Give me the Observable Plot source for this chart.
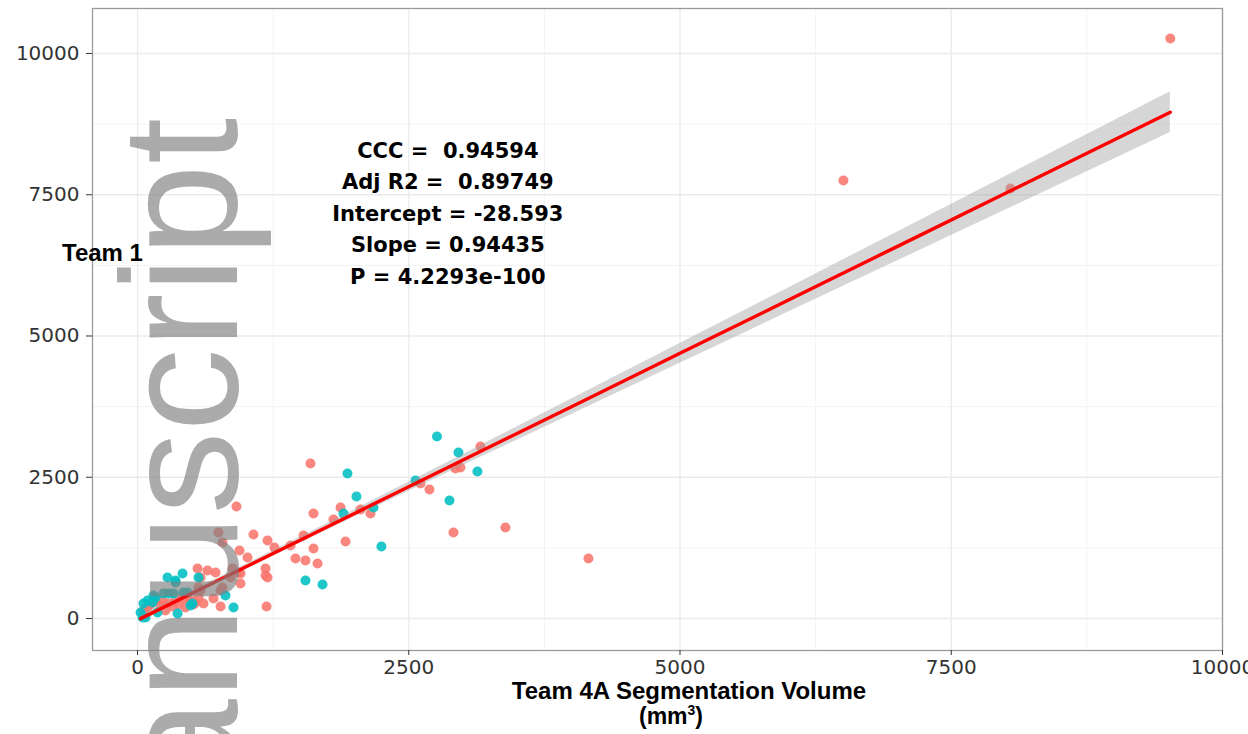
<!DOCTYPE html>
<html>
<head>
<meta charset="utf-8">
<script src="https://cdn.jsdelivr.net/npm/d3@7"></script>
<script src="https://cdn.jsdelivr.net/npm/@observablehq/plot@0.6"></script>
<style>
  body { margin: 0; background: #fff; }
  #wrap { position: relative; width: 1248px; height: 734px; overflow: hidden; background: #fff; }
  #chart svg text { white-space: pre; }
  .ttl { position: absolute; font-family: "Liberation Sans", Arial, sans-serif; font-weight: bold; color: #000; white-space: nowrap; }
  #ylab { left: 62px; top: 240px; font-size: 24px; line-height: 26px; }
  #xlab { left: 0; width: 1378px; text-align: center; top: 678px; font-size: 24px; line-height: 25px; }
  #xlab .unit { position: relative; left: -18px; font-size: 23px; }
  #xlab sup { font-size: 14px; vertical-align: 9px; line-height: 0; }
  #wm { position: absolute; left: 0; top: 0; pointer-events: none; }
</style>
</head>
<body>
<div id="wrap">
  <div id="chart"></div>
  <div class="ttl" id="ylab">Team 1</div>
  <div class="ttl" id="xlab">Team 4A Segmentation Volume<br><span class="unit">(mm<sup>3</sup>)</span></div>
  <svg id="wm" width="1248" height="734">
    <text transform="translate(237,118) rotate(-90)" text-anchor="end"
      font-family="Liberation Sans, Arial, sans-serif" font-size="166"
      fill="#808080" fill-opacity="0.66">manuscript</text>
  </svg>
</div>
<script>
// ---- data ----
const groupA_x = [55,92,120,166,212,230,258,286,322,350,378,415,442,461,488,516,534,562,581,581,553,645,719,608,700,562,765,783,857,875,931,949,746,783,912,940,1014,1069,1198,1262,1180,1180,1198,1189,1456,1548,1622,1659,1622,1806,1871,1917,2055,2147,1594,2608,2691,2912,2930,2976,3161,3391,4156,6506,8045,9519,1410,1530,765,949];
const groupA_y = [142,195,248,319,230,319,142,266,212,319,248,354,195,354,319,248,283,372,496,726,885,850,814,266,354,549,212,549,726,885,814,620,1522,1345,1982,1204,1080,1487,1381,1257,885,761,726,212,1062,1027,1239,974,1858,1752,1965,1363,1929,1859,2744,2390,2283,1522,2655,2673,3044,1611,1062,7753,7611,10266,1292,1469,496,796];

const groupB_x = [46,28,74,92,55,138,147,184,240,286,332,350,276,350,415,424,461,488,369,562,811,885,1548,1705,1898,1935,2018,2175,2248,2562,2760,2875,2958,3133,507,166];
const groupB_y = [18,106,18,319,266,283,407,106,442,442,442,637,726,673,796,460,460,230,88,726,407,195,673,602,1859,2567,2160,1965,1274,2443,3220,2089,2938,2602,266,372];

const groupNames = ["A", "B"];
const groupColors = ["#F8766D", "#00BFC4"];

// fitted line and its confidence band
const fitX   = [28, 1000, 2000, 3000, 4000, 5000, 6000, 7000, 8000, 9519];
const fitY   = [-2, 916, 1860, 2805, 3749, 4693, 5637, 6582, 7526, 8961];
const bandLo = [-59, 871, 1796, 2707, 3612, 4517, 5423, 6326, 7228, 8601];
const bandHi = [55, 961, 1924, 2903, 3886, 4869, 5851, 6838, 7824, 9321];

const xTicks = [0, 2500, 5000, 7500, 10000];
const yTicks = [0, 2500, 5000, 7500, 10000];
const xMinor = [1250, 3750, 6250, 8750];
const yMinor = [1250, 3750, 6250, 8750];

const statLines = ["CCC =  0.94594", "Adj R2 =  0.89749", "Intercept = -28.593", "Slope = 0.94435", "P = 4.2293e-100"];
const statPos = {x: 2860, y: 7215};

// ---- build tables ----
const points = [
  ...groupA_x.map((x, i) => ({x, y: groupA_y[i], g: groupNames[0]})),
  ...groupB_x.map((x, i) => ({x, y: groupB_y[i], g: groupNames[1]}))
];
const band = fitX.map((x, i) => ({x, fit: fitY[i], lo: bandLo[i], hi: bandHi[i]}));
const stat = [{x: statPos.x, y: statPos.y, text: statLines.join("\n")}];

const chart = Plot.plot({
  width: 1248,
  height: 680,
  marginLeft: 92,
  marginRight: 26,
  marginTop: 8,
  marginBottom: 30,
  style: {fontFamily: "DejaVu Sans", background: "#fff", overflow: "visible"},
  x: {domain: [-415, 10000]},
  y: {domain: [-566, 10796]},
  color: {domain: groupNames, range: groupColors},
  marks: [
    Plot.gridX(xMinor, {stroke: "#f0f0f0", strokeOpacity: 1, strokeWidth: 0.8}),
    Plot.gridY(yMinor, {stroke: "#f0f0f0", strokeOpacity: 1, strokeWidth: 0.8}),
    Plot.gridX(xTicks, {stroke: "#ebebeb", strokeOpacity: 1, strokeWidth: 1.3}),
    Plot.gridY(yTicks, {stroke: "#ebebeb", strokeOpacity: 1, strokeWidth: 1.3}),
    Plot.dot(points, {x: "x", y: "y", fill: "g", r: 5, fillOpacity: 0.88, stroke: null}),
    Plot.areaY(band, {x: "x", y1: "lo", y2: "hi", fill: "#999999", fillOpacity: 0.4}),
    Plot.line(band, {x: "x", y: "fit", stroke: "#ff0000", strokeWidth: 3.4}),
    Plot.text(stat, {x: "x", y: "y", text: "text", fontSize: 21, fontWeight: "bold", lineHeight: 1.5, fill: "#000", textAnchor: "middle"}),
    Plot.frame({stroke: "#9a9a9a", strokeWidth: 1.3}),
    Plot.axisX(xTicks, {tickSize: 5, tickPadding: 4, fontSize: 20, color: "#333", label: null, tickFormat: d => String(d)}),
    Plot.axisY(yTicks, {tickSize: 6, tickPadding: 7, fontSize: 20, color: "#333", label: null, tickFormat: d => String(d)})
  ]
});
document.getElementById("chart").appendChild(chart);
</script>
</body>
</html>
